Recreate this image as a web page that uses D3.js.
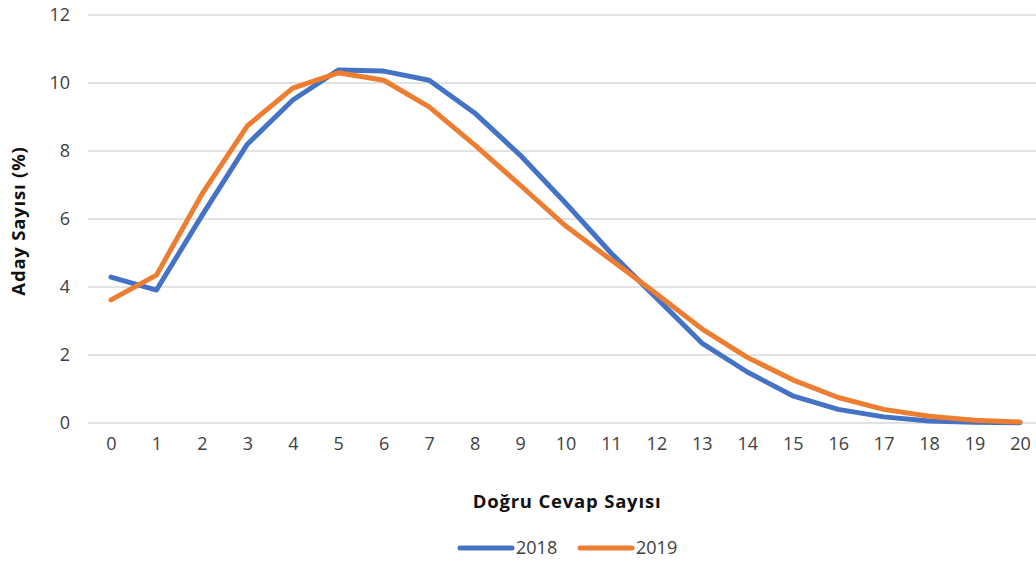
<!DOCTYPE html>
<html>
<head>
<meta charset="utf-8">
<script src="https://cdn.jsdelivr.net/npm/d3@7"></script>
<style>
  body { margin: 0; background: #fff; }
  text { font-family: "Open Sans", "Noto Sans", sans-serif; }
</style>
</head>
<body>
<svg width="1036" height="564"></svg>
<script>
var categories = d3.range(0, 21);
var values2018 = [4.29, 3.91, 6.1, 8.2, 9.5, 10.38, 10.35, 10.08, 9.12, 7.88, 6.47, 5.0, 3.68, 2.35, 1.5, 0.8, 0.4, 0.18, 0.06, 0.02, 0.01];
var values2019 = [3.62, 4.35, 6.73, 8.74, 9.85, 10.3, 10.08, 9.3, 8.18, 7.0, 5.8, 4.8, 3.8, 2.77, 1.93, 1.27, 0.75, 0.4, 0.2, 0.08, 0.03];
var yTicks = [0, 2, 4, 6, 8, 10, 12];
var series = [
    { name: '2018', values: values2018, color: '#4472C4' },
    { name: '2019', values: values2019, color: '#ED7D31' }
];

var svg = d3.select('svg');

var ScaleX = d3.scalePoint().domain(categories).range([111, 1020]);
var ScaleY = d3.scaleLinear().domain([0, 12]).range([423, 15]);

//gridlines
svg.append('g')
    .selectAll('line')
    .data(yTicks)
    .enter()
    .append('line')
    .attr('x1', 88)
    .attr('x2', 1036)
    .attr('y1', function(d){ return ScaleY(d); })
    .attr('y2', function(d){ return ScaleY(d); })
    .attr('stroke', '#d9d9d9')
    .attr('stroke-width', 1.5);

//y axis labels
var yAxis = svg.append('g')
    .attr('transform', 'translate(80,0)')
    .call(d3.axisLeft(ScaleY).tickValues(yTicks).tickSize(0).tickPadding(10));
yAxis.select('.domain').remove();
yAxis.selectAll('text')
    .attr('font-size', 18)
    .attr('fill', '#404040')
    .style('font-family', '"Open Sans", "Noto Sans", sans-serif');

//x axis labels
var xAxis = svg.append('g')
    .attr('transform', 'translate(0,423)')
    .call(d3.axisBottom(ScaleX).tickSize(0).tickPadding(14));
xAxis.select('.domain').remove();
xAxis.selectAll('text')
    .attr('font-size', 18)
    .attr('fill', '#404040')
    .style('font-family', '"Open Sans", "Noto Sans", sans-serif');

//lines
var line = d3.line()
    .x(function(d, i){ return ScaleX(categories[i]); })
    .y(function(d){ return ScaleY(d); });

svg.selectAll('.series')
    .data(series)
    .enter()
    .append('path')
    .attr('class', 'series')
    .attr('d', function(d){ return line(d.values); })
    .attr('fill', 'none')
    .attr('stroke', function(d){ return d.color; })
    .attr('stroke-width', 5)
    .attr('stroke-linejoin', 'round')
    .attr('stroke-linecap', 'round');

//axis titles
svg.append('text')
    .attr('x', 567)
    .attr('y', 508)
    .attr('text-anchor', 'middle')
    .attr('font-size', 18.5)
    .attr('font-weight', 'bold')
    .attr('letter-spacing', 0.8)
    .attr('fill', '#111')
    .text('Doğru Cevap Sayısı');

svg.append('text')
    .attr('transform', 'translate(25,221) rotate(-90)')
    .attr('text-anchor', 'middle')
    .attr('font-size', 18.5)
    .attr('font-weight', 'bold')
    .attr('letter-spacing', 0.8)
    .attr('fill', '#111')
    .text('Aday Sayısı (%)');

//legend
var legend = svg.append('g')
    .selectAll('g')
    .data(series)
    .enter()
    .append('g')
    .attr('transform', function(d, i){ return 'translate(460,548)translate(' + (i * 120) + ',0)'; });
legend.append('line')
    .attr('x1', 0)
    .attr('x2', 52)
    .attr('stroke', function(d){ return d.color; })
    .attr('stroke-width', 5)
    .attr('stroke-linecap', 'round');
legend.append('text')
    .attr('x', 56)
    .attr('y', 6)
    .attr('font-size', 18)
    .attr('fill', '#404040')
    .text(function(d){ return d.name; });
</script>
</body>
</html>
